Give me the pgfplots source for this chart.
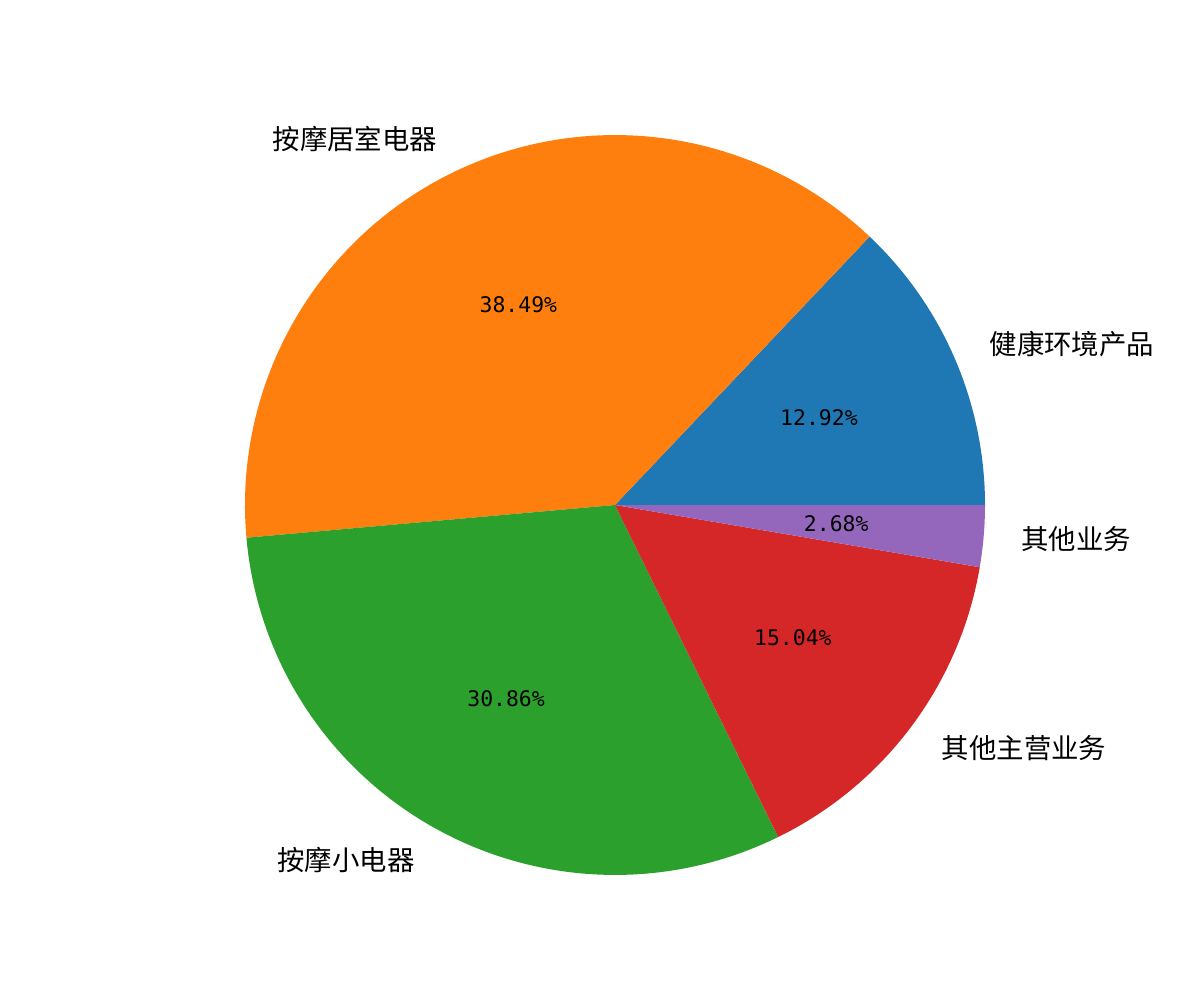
\documentclass[border=0pt]{standalone}
\usepackage{fontspec}
\usepackage{pgfplots}
\usepackage{pgfplotstable}
\pgfplotsset{compat=1.18}
\newfontfamily\cjk{Noto Sans CJK SC}
\newfontfamily\pctfont{DejaVu Sans Mono}

\definecolor{c1}{HTML}{1F77B4}
\definecolor{c2}{HTML}{FF7F0E}
\definecolor{c3}{HTML}{2CA02C}
\definecolor{c4}{HTML}{D62728}
\definecolor{c5}{HTML}{9467BD}

% share of each segment, in percent
\pgfplotstableread[col sep=comma]{
label,value,color
健康环境产品,12.92,c1
按摩居室电器,38.49,c2
按摩小电器,30.86,c3
其他主营业务,15.04,c4
其他业务,2.68,c5
}\piedata

\begin{document}
\begin{tikzpicture}
\begin{axis}[hide axis, scale only axis, width=12cm, height=10cm,
  xmin=-1.662, xmax=1.581, ymin=-1.338, ymax=1.365, clip=false]
\path (rel axis cs:0,0) rectangle (rel axis cs:1,1);
\pgfplotstablegetrowsof{\piedata}
\pgfmathtruncatemacro\nrows{\pgfplotsretval-1}
\def\cum{0}
\pgfplotsforeachungrouped \i in {0,...,\nrows}{
  \pgfplotstablegetelem{\i}{value}\of\piedata \let\v\pgfplotsretval
  \pgfplotstablegetelem{\i}{color}\of\piedata \let\c\pgfplotsretval
  \pgfplotstablegetelem{\i}{label}\of\piedata \let\l\pgfplotsretval
  \pgfmathsetmacro\a{3.6*\cum}
  \pgfmathsetmacro\b{3.6*(\cum+\v)}
  \pgfmathsetmacro\m{(\a+\b)/2}
  \pgfmathsetmacro\lx{1.1*cos(\m)}
  \pgfmathsetmacro\ly{1.1*sin(\m)}
  \pgfmathsetmacro\px{0.6*cos(\m)}
  \pgfmathsetmacro\py{0.6*sin(\m)}
  \ifdim\lx pt>0pt \def\anc{west}\else\def\anc{east}\fi
  \edef\temp{%
    \noexpand\addplot[fill=\c, draw=none, domain=\a:\b, samples=90]
      ({cos(x)},{sin(x)}) -- (axis cs:0,0) -- cycle;
    \noexpand\node[anchor=\anc, inner sep=0pt, font=\noexpand\cjk\noexpand\fontsize{7.8}{9}\noexpand\selectfont]
      at (axis cs:\lx,\ly) {\l};
    \noexpand\node[inner sep=0pt, font=\noexpand\pctfont\noexpand\fontsize{6.1}{8}\noexpand\selectfont]
      at (axis cs:\px,\py) {\v\noexpand\%};
  }\temp
  \pgfmathsetmacro\cum{\cum+\v}
}
\end{axis}
\end{tikzpicture}
\end{document}
